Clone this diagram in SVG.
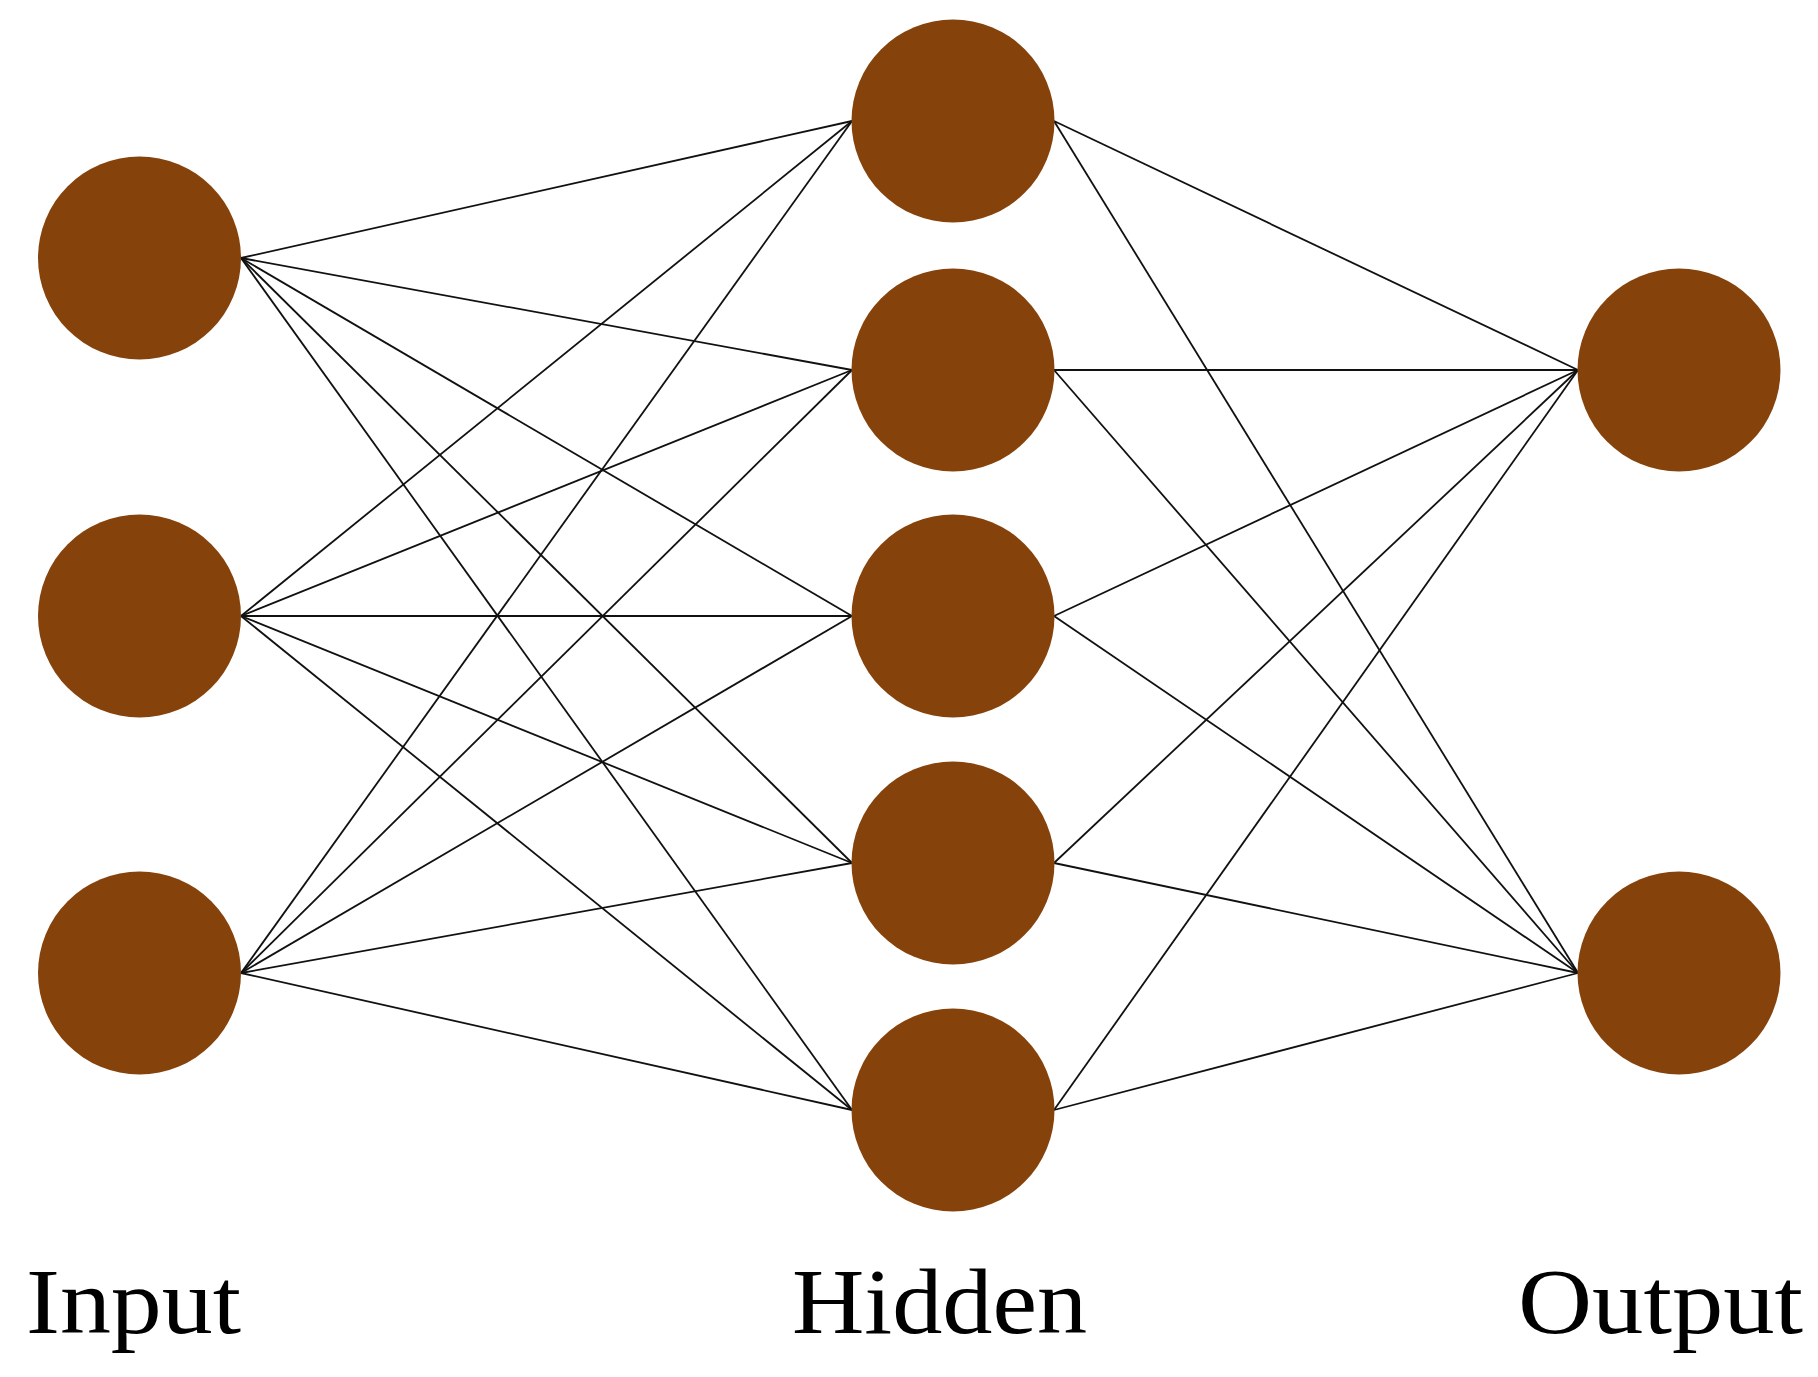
<svg xmlns="http://www.w3.org/2000/svg" width="1818" height="1377" viewBox="0 0 1818 1377">
<style>
.n{fill:#86420b}
.c line{stroke:#111;stroke-width:1.8}
.t{font-family:"Liberation Serif",serif;font-size:94px;fill:#000}
</style>
<rect width="1818" height="1377" fill="#fff"/>
<g class="c" id="connectors">
<line x1="241" y1="258" x2="852" y2="121"/>
<line x1="241" y1="258" x2="852" y2="370"/>
<line x1="241" y1="258" x2="852" y2="616"/>
<line x1="241" y1="258" x2="852" y2="863"/>
<line x1="241" y1="258" x2="852" y2="1110"/>
<line x1="241" y1="616" x2="852" y2="121"/>
<line x1="241" y1="616" x2="852" y2="370"/>
<line x1="241" y1="616" x2="852" y2="616"/>
<line x1="241" y1="616" x2="852" y2="863"/>
<line x1="241" y1="616" x2="852" y2="1110"/>
<line x1="241" y1="973" x2="852" y2="121"/>
<line x1="241" y1="973" x2="852" y2="370"/>
<line x1="241" y1="973" x2="852" y2="616"/>
<line x1="241" y1="973" x2="852" y2="863"/>
<line x1="241" y1="973" x2="852" y2="1110"/>
<line x1="1054" y1="121" x2="1578" y2="370"/>
<line x1="1054" y1="121" x2="1578" y2="973"/>
<line x1="1054" y1="370" x2="1578" y2="370"/>
<line x1="1054" y1="370" x2="1578" y2="973"/>
<line x1="1054" y1="616" x2="1578" y2="370"/>
<line x1="1054" y1="616" x2="1578" y2="973"/>
<line x1="1054" y1="863" x2="1578" y2="370"/>
<line x1="1054" y1="863" x2="1578" y2="973"/>
<line x1="1054" y1="1110" x2="1578" y2="370"/>
<line x1="1054" y1="1110" x2="1578" y2="973"/>
</g>
<g id="input1"><circle class="n" cx="139.5" cy="258" r="101.5"/></g>
<g id="input2"><circle class="n" cx="139.5" cy="616" r="101.5"/></g>
<g id="input3"><circle class="n" cx="139.5" cy="973" r="101.5"/></g>
<g id="hidden1"><circle class="n" cx="953" cy="121" r="101.5"/></g>
<g id="hidden2"><circle class="n" cx="953" cy="370" r="101.5"/></g>
<g id="hidden3"><circle class="n" cx="953" cy="616" r="101.5"/></g>
<g id="hidden4"><circle class="n" cx="953" cy="863" r="101.5"/></g>
<g id="hidden5"><circle class="n" cx="953" cy="1110" r="101.5"/></g>
<g id="output1"><circle class="n" cx="1679" cy="370" r="101.5"/></g>
<g id="output2"><circle class="n" cx="1679" cy="973" r="101.5"/></g>
<g id="labels">
<text class="t" x="26" y="1333" textLength="215" lengthAdjust="spacingAndGlyphs">Input</text>
<text class="t" x="792" y="1333" textLength="295" lengthAdjust="spacingAndGlyphs">Hidden</text>
<text class="t" x="1518" y="1333" textLength="285" lengthAdjust="spacingAndGlyphs">Output</text>
</g>
</svg>
